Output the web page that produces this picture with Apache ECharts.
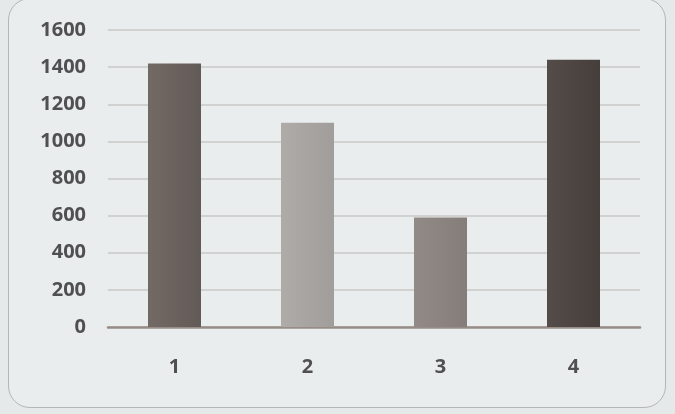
<!DOCTYPE html>
<html>
<head>
<meta charset="utf-8">
<script src="https://cdn.jsdelivr.net/npm/echarts@6/dist/echarts.min.js"></script>
<style>
  html, body { margin: 0; padding: 0; background: #e6e9e9; }
  .frame {
    position: absolute; left: 8px; top: -2px; width: 658px; height: 410px;
    border: 1.5px solid #b4b6b6; border-radius: 22px; background: #eaeded;
    box-sizing: border-box;
  }
  #bars { position: absolute; left: 0; top: 0; width: 675px; height: 414px; }
</style>
</head>
<body>
<div class="frame"></div>
<div id="bars"></div>
<script>
// categories and values
const categories = ['1', '2', '3', '4']
const values = [1420, 1100, 590, 1440]
const barColors = [
  ['#736a66', '#625a56'],
  ['#aeaba9', '#a19d9b'],
  ['#928a86', '#857d79'],
  ['#544c49', '#453e3b'],
]

const chart = echarts.init(document.getElementById('bars'))
chart.setOption({
  animation: false,
  grid: { left: 108, right: 35, top: 30, bottom: 87, containLabel: false },
  xAxis: {
    type: 'category',
    data: categories,
    axisLine: { lineStyle: { color: '#978c86', width: 2.5 } },
    axisTick: { show: false },
    axisLabel: {
      color: '#505050', fontSize: 20, fontWeight: 'bold',
      fontFamily: 'Open Sans', margin: 30,
    },
  },
  yAxis: {
    type: 'value',
    min: 0, max: 1600, interval: 200,
    axisLine: { show: false },
    axisTick: { show: false },
    splitLine: { lineStyle: { color: '#c9c7c4', width: 1.5 } },
    axisLabel: {
      color: '#505050', fontSize: 20, fontWeight: 'bold',
      fontFamily: 'Open Sans', margin: 22,
      formatter: v => String(v),
    },
  },
  series: [{
    type: 'bar',
    barWidth: 53,
    data: values.map((v, i) => ({
      value: v,
      itemStyle: {
        color: new echarts.graphic.LinearGradient(0, 0, 1, 0, [
          { offset: 0, color: barColors[i][0] },
          { offset: 1, color: barColors[i][1] },
        ]),
      },
    })),
  }],
})
</script>
</body>
</html>
